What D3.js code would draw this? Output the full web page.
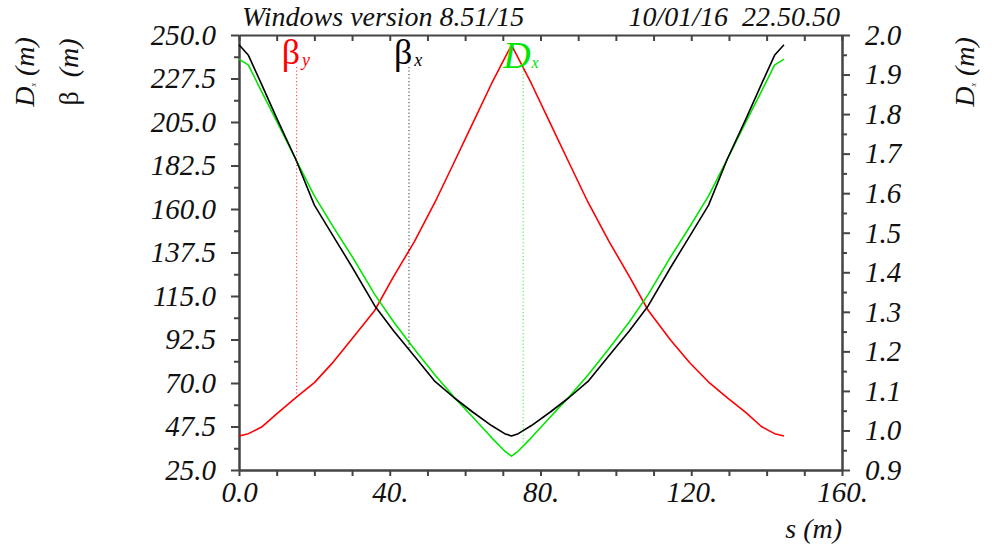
<!DOCTYPE html>
<html>
<head>
<meta charset="utf-8">
<script src="https://cdn.jsdelivr.net/npm/d3@7"></script>
<style>
  html, body { margin: 0; padding: 0; background: #fff; }
  svg text { font-family: "Liberation Serif", "Times New Roman", serif; }
</style>
</head>
<body>
<svg id="chart" width="992" height="547"></svg>
<script>
// Lattice optics along one cell: positions (m) and optical functions
const sPos = [0, 2.5, 6, 10, 15, 20, 25, 30, 36, 41, 46.5, 52, 57, 62, 67, 70.5, 72.3,
  74.1, 77.6, 82.6, 87.6, 92.6, 98.1, 103.6, 108.6, 114.6, 119.6, 124.6, 129.6, 134.6, 138.6, 142.1, 144.6];
const betaX = [245, 239.5, 224.5, 207, 186, 162, 146, 130, 110, 97, 84, 70.8, 62.5, 55, 48, 43.8, 42.6,
  43.8, 48, 55, 62.5, 70.8, 84, 97, 110, 130, 146, 162, 186, 207, 224.5, 239.5, 245];
const betaY = [42.6, 43.8, 47.2, 54, 62.3, 70.2, 80.8, 92.9, 107.5, 125, 143, 163.5, 183.8, 204.3, 224.8, 238, 244.8,
  238, 224.8, 204.3, 183.8, 163.5, 143.5, 125, 107.5, 92, 80.5, 70.5, 62.3, 54.5, 47.5, 43.8, 42.6];
const dispX = [1.939, 1.924, 1.857, 1.782, 1.687, 1.593, 1.515, 1.44, 1.344, 1.275, 1.206, 1.14, 1.085, 1.034, 0.982, 0.948, 0.935,
  0.948, 0.982, 1.034, 1.085, 1.14, 1.206, 1.275, 1.344, 1.44, 1.515, 1.593, 1.687, 1.782, 1.857, 1.924, 1.939];

// Axis ticks
const leftMajor = [25, 47.5, 70, 92.5, 115, 137.5, 160, 182.5, 205, 227.5, 250];
const leftMinor = [36.25, 58.75, 81.25, 103.75, 126.25, 148.75, 171.25, 193.75, 216.25, 238.75];
const rightMajor = [0.9, 1.0, 1.1, 1.2, 1.3, 1.4, 1.5, 1.6, 1.7, 1.8, 1.9, 2.0];
const rightMinor = [0.95, 1.05, 1.15, 1.25, 1.35, 1.45, 1.55, 1.65, 1.75, 1.85, 1.95];
const bottomMajor = [0, 40, 80, 120, 160];
const bottomLabels = ["0.0", "40.", "80.", "120.", "160."];
const bottomMinor = [10, 20, 30, 50, 60, 70, 90, 100, 110, 130, 140, 150];

// Curve markers: label, subscript, colour, position along s, which curve
const markers = [
  { main: "β", sub: "y", color: "#ff0000", s: 15.3, series: "betaY" },
  { main: "β", sub: "x", color: "#000000", s: 45.1, series: "betaX" },
  { main: "D", sub: "x", color: "#00e600", s: 75.4, series: "dispX" }
];

const titleLeft = "Windows version 8.51/15";
const titleRight = "10/01/16  22.50.50";

const svg = d3.select("#chart");
const plot = { left: 239, right: 842, top: 35, bottom: 470 };

const x = d3.scaleLinear().domain([0, 160]).range([plot.left, plot.right]);
const yL = d3.scaleLinear().domain([25, 250]).range([plot.bottom, plot.top]);
const yR = d3.scaleLinear().domain([0.9, 2.0]).range([plot.bottom, plot.top]);

const axisColor = "#444";
const tickFont = 29;

function styleAxis(g) {
  g.selectAll("path.domain").attr("stroke", axisColor).attr("stroke-width", 2);
  g.selectAll(".tick line").attr("stroke", axisColor).attr("stroke-width", 2);
  g.selectAll(".tick text")
    .attr("fill", "#111")
    .style("font-family", '"Liberation Serif", "Times New Roman", serif')
    .style("font-style", "italic")
    .style("font-size", tickFont + "px");
}

// Left axis (beta)
svg.append("g").attr("transform", `translate(${plot.left},0)`)
  .call(d3.axisLeft(yL).tickValues(leftMinor).tickSize(5).tickSizeOuter(0).tickFormat(""))
  .call(styleAxis);
svg.append("g").attr("transform", `translate(${plot.left},0)`)
  .call(d3.axisLeft(yL).tickValues(leftMajor).tickSize(8).tickSizeOuter(0).tickPadding(15).tickFormat(d3.format(".1f")))
  .call(styleAxis);

// Right axis (dispersion)
svg.append("g").attr("transform", `translate(${plot.right},0)`)
  .call(d3.axisRight(yR).tickValues(rightMinor).tickSize(5).tickSizeOuter(0).tickFormat(""))
  .call(styleAxis);
svg.append("g").attr("transform", `translate(${plot.right},0)`)
  .call(d3.axisRight(yR).tickValues(rightMajor).tickSize(8).tickSizeOuter(0).tickPadding(15).tickFormat(d3.format(".1f")))
  .call(styleAxis);

// Bottom axis (s)
svg.append("g").attr("transform", `translate(0,${plot.bottom})`)
  .call(d3.axisBottom(x).tickValues(bottomMinor).tickSize(6).tickSizeOuter(0).tickFormat(""))
  .call(styleAxis);
svg.append("g").attr("transform", `translate(0,${plot.bottom})`)
  .call(d3.axisBottom(x).tickValues(bottomMajor).tickSize(6).tickSizeOuter(0).tickPadding(5)
    .tickFormat((d, i) => bottomLabels[i]))
  .call(styleAxis);

// Top frame with inward ticks
svg.append("g").attr("transform", `translate(0,${plot.top})`)
  .call(d3.axisTop(x).tickValues(bottomMajor.concat(bottomMinor)).tickSize(-6).tickSizeOuter(0).tickFormat(""))
  .call(styleAxis);

// Curves
const series = { betaX: { vals: betaX, y: yL, color: "#000000" },
                 betaY: { vals: betaY, y: yL, color: "#ff0000" },
                 dispX: { vals: dispX, y: yR, color: "#00e600" } };

["betaY", "dispX", "betaX"].forEach(key => {
  const sr = series[key];
  const line = d3.line().x((d, i) => x(sPos[i])).y(d => sr.y(d));
  svg.append("path")
    .attr("d", line(sr.vals))
    .attr("fill", "none")
    .attr("stroke", sr.color)
    .attr("stroke-width", 1.6)
    .attr("stroke-linejoin", "round");
});

// Markers: dotted drop lines from the label down to the curve
function valueAt(vals, s) {
  const i = Math.max(1, d3.bisectLeft(sPos, s));
  const t = (s - sPos[i - 1]) / (sPos[i] - sPos[i - 1]);
  return vals[i - 1] + t * (vals[i] - vals[i - 1]);
}

markers.forEach(m => {
  const sr = series[m.series];
  const px = x(m.s);
  const py = sr.y(valueAt(sr.vals, m.s));
  svg.append("line")
    .attr("x1", px).attr("x2", px)
    .attr("y1", 67).attr("y2", py)
    .attr("stroke", m.color)
    .attr("stroke-width", 1)
    .attr("stroke-dasharray", "1.2,2.3")
    .attr("opacity", 0.8);

  const isD = m.main === "D";
  const t = svg.append("text")
    .attr("x", isD ? px - 20 : px - 15)
    .attr("y", isD ? 68 : 64)
    .attr("fill", m.color);
  t.append("tspan")
    .text(m.main)
    .style("font-size", isD ? "38px" : "36px")
    .style("font-style", isD ? "italic" : "normal");
  t.append("tspan")
    .text(m.sub)
    .attr("dx", isD ? 1 : 2)
    .attr("dy", isD ? 0 : 2)
    .style("font-size", isD ? "16px" : "18px")
    .style("font-style", "italic");
});

// Header texts
svg.append("text")
  .attr("x", 242).attr("y", 26)
  .style("font-size", "28px").style("font-style", "italic")
  .attr("fill", "#111")
  .text(titleLeft);
svg.append("text")
  .attr("x", 840).attr("y", 26)
  .attr("text-anchor", "end")
  .attr("xml:space", "preserve")
  .style("white-space", "pre")
  .style("font-size", "28px").style("font-style", "italic")
  .attr("fill", "#111")
  .text(titleRight);

// Axis titles
svg.append("text")
  .attr("x", 842).attr("y", 538)
  .attr("text-anchor", "end")
  .style("font-size", "28px").style("font-style", "italic")
  .attr("fill", "#111")
  .text("s (m)");

function dispTitle(xPos, yPos) {
  const t = svg.append("text")
    .attr("transform", `translate(${xPos},${yPos}) rotate(-90)`)
    .attr("text-anchor", "middle")
    .attr("xml:space", "preserve")
    .style("white-space", "pre")
    .style("font-size", "28px").style("font-style", "italic")
    .attr("fill", "#111");
  t.append("tspan").text("D");
  t.append("tspan").text("x").style("font-size", "8px").attr("dy", 2);
  t.append("tspan").text(" (m)").attr("dy", -2);
}
dispTitle(34, 72);
dispTitle(974, 72);

const betaTitle = svg.append("text")
  .attr("transform", "translate(78,72) rotate(-90)")
  .attr("text-anchor", "middle")
  .attr("xml:space", "preserve")
  .style("white-space", "pre")
  .style("font-size", "28px")
  .attr("fill", "#111");
betaTitle.append("tspan").text("β").style("font-style", "normal");
betaTitle.append("tspan").text("  (m)").style("font-style", "italic");
</script>
</body>
</html>
